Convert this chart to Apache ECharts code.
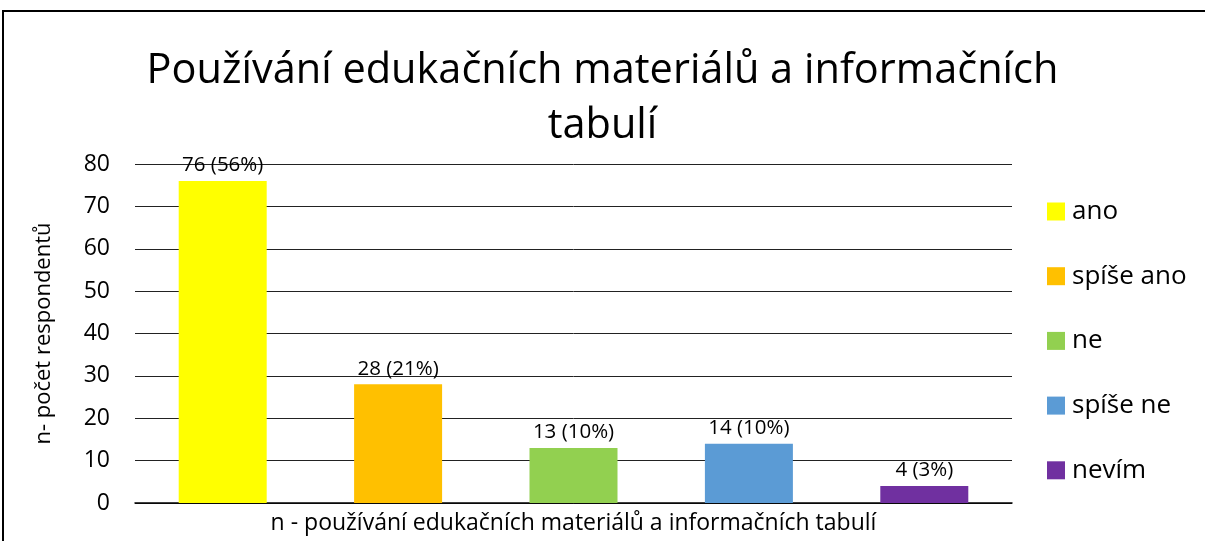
<!DOCTYPE html>
<html>
<head>
<meta charset="utf-8">
<script src="https://cdn.jsdelivr.net/npm/echarts@6/dist/echarts.min.js"></script>
<style>
  html, body { margin: 0; padding: 0; background: #fff; }
  #chart { width: 1205px; height: 541px; }
</style>
</head>
<body>
<div id="chart"></div>
<script>
// hodnoty
const categories = ['ano', 'spíše ano', 'ne', 'spíše ne', 'nevím']
const counts = [76, 28, 13, 14, 4]
const percents = [56, 21, 10, 10, 3]
const colors = ['#FFFF00', '#FFC000', '#92D050', '#5B9BD5', '#7030A0']

const font = '"Open Sans", sans-serif'
const chart = echarts.init(document.getElementById('chart'))

// každá kategorie je vlastní série, aby měla položku v legendě
const series = categories.map((name, i) => {
  return {
    name: name,
    type: 'bar',
    stack: 'all',
    barWidth: 88,
    itemStyle: { color: colors[i] },
    label: {
      show: true,
      position: 'top',
      distance: 5,
      color: '#000',
      fontFamily: font,
      fontSize: 20.5,
      formatter: () => counts[i] + ' (' + percents[i] + '%)'
    },
    data: categories.map((c, j) => (j === i ? counts[i] : '-'))
  }
})

chart.setOption({
  animation: false,
  textStyle: { fontFamily: font },
  title: {
    text: 'Používání edukačních materiálů a informačních\ntabulí',
    left: 'center',
    top: 39,
    textStyle: {
      fontFamily: font,
      fontSize: 41.5,
      fontWeight: 'normal',
      color: '#000',
      lineHeight: 55
    }
  },
  graphic: [
    {
      type: 'rect',
      shape: { x: 3, y: 11, width: 1300, height: 700 },
      style: { fill: 'none', stroke: '#000', lineWidth: 2 }
    }
  ],
  legend: {
    orient: 'vertical',
    left: 1042,
    top: 193,
    itemWidth: 18,
    itemHeight: 18,
    itemGap: 37.7,
    icon: 'rect',
    textStyle: {
      fontFamily: font,
      fontSize: 26,
      lineHeight: 27,
      color: '#000',
      padding: [0, 0, 0, 2]
    },
    data: categories
  },
  grid: {
    left: 135,
    right: 193,
    top: 164,
    bottom: 38,
    containLabel: false,
    outerBoundsMode: 'none'
  },
  xAxis: {
    type: 'category',
    data: categories,
    name: 'n - používání edukačních materiálů a informačních tabulí',
    nameLocation: 'middle',
    nameGap: 9,
    nameTextStyle: { fontFamily: font, fontSize: 23, color: '#000', verticalAlign: 'top' },
    axisLine: { lineStyle: { color: '#000', width: 1.5 } },
    axisTick: { show: false },
    axisLabel: { show: false }
  },
  yAxis: {
    type: 'value',
    min: 0,
    max: 80,
    interval: 10,
    name: 'n- počet respondentů',
    nameLocation: 'middle',
    nameGap: 80,
    nameTextStyle: { fontFamily: font, fontSize: 22, color: '#000' },
    axisLine: { show: false },
    axisTick: { show: false },
    axisLabel: { fontFamily: font, fontSize: 23, color: '#000', margin: 25 },
    splitLine: { lineStyle: { color: '#222', width: 1 } }
  },
  series: series
})
</script>
</body>
</html>
